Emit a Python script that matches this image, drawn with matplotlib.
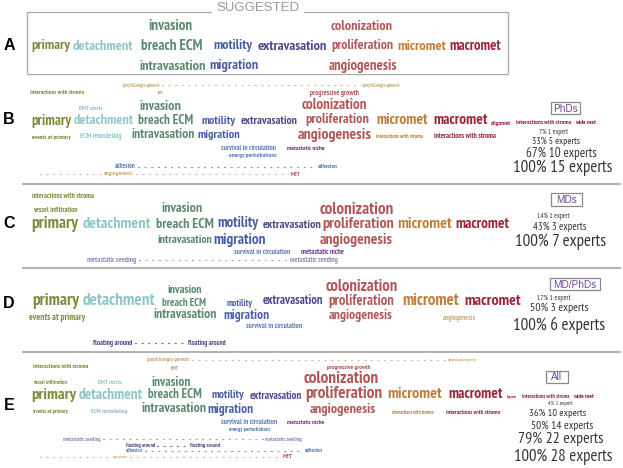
import matplotlib
matplotlib.use("Agg")
import matplotlib.pyplot as plt
from matplotlib.patches import Rectangle

W, H = 623, 468
FONT = ['PT Sans Narrow', 'Archivo Narrow', 'DejaVu Sans']
LABEL_FONT = ['Liberation Sans', 'DejaVu Sans']

# ---------------- colours per stage ----------------
COL = {
    'olive': '#7d8c3c', 'teal': '#8fc6c8', 'green': '#5c8a70', 'blue': '#4b5fa6',
    'lblue': '#5a7fb8', 'purple': '#4d4890', 'purple2': '#6b3a8c', 'lav': '#9488c0',
    'navy': '#4a4a88', 'red': '#b35858', 'orange': '#c27e3c', 'dred': '#99283a',
    'tan': '#c9ab78', 'pink': '#c4508a', 'emt': '#a8a070', 'stat': '#333333',
}

# ---------------- data: words (text) and stage colour keys ----------------
words_A = ["primary", "detachment", "breach ECM", "invasion", "intravasation", "motility",
           "migration", "extravasation", "colonization", "proliferation", "angiogenesis",
           "micromet", "macromet", "lymph&angio-genesis", "lymph&angio-genesis"]
stages_A = ['olive', 'teal', 'green', 'green', 'green', 'blue', 'blue', 'purple', 'red', 'red',
            'red', 'orange', 'dred', 'tan', 'tan']

words_B = ["interactions with stroma", "EMT", "EMT starts", "invasion", "primary", "detachment",
           "breach ECM", "motility", "extravasation", "events at primary", "ECM remodeling",
           "intravasation", "migration", "survival in circulation", "energy perturbations",
           "metastatic niche", "adhesion", "adhesion", "angiogenesis", "MET",
           "progressive growth", "colonization", "proliferation", "angiogenesis", "micromet",
           "macromet", "oligomet", "interactions with stroma", "wide met",
           "interactions with stroma", "interactions with stroma"]
stages_B = ['olive', 'emt', 'teal', 'green', 'olive', 'teal', 'green', 'blue', 'purple', 'olive',
            'teal', 'green', 'blue', 'lblue', 'lblue', 'purple2', 'lblue', 'lblue', 'tan', 'pink',
            'red', 'red', 'red', 'red', 'orange', 'dred', 'dred', 'dred', 'dred', 'orange', 'dred']

words_C = ["interactions with stroma", "vessel infiltration", "invasion", "primary", "detachment",
           "breach ECM", "motility", "extravasation", "intravasation", "migration",
           "survival in circulation", "metastatic niche", "metastatic seeding",
           "metastatic seeding", "colonization", "proliferation", "angiogenesis", "micromet",
           "macromet"]
stages_C = ['olive', 'olive', 'green', 'olive', 'teal', 'green', 'blue', 'purple', 'green', 'blue',
            'lblue', 'purple2', 'lav', 'lav', 'red', 'red', 'red', 'orange', 'dred']

words_D = ["invasion", "primary", "detachment", "breach ECM", "motility", "extravasation",
           "events at primary", "intravasation", "migration", "survival in circulation",
           "floating around", "floating around", "colonization", "proliferation",
           "angiogenesis", "micromet", "macromet", "angiogenesis"]
stages_D = ['green', 'olive', 'teal', 'green', 'blue', 'purple', 'olive', 'green', 'blue', 'lblue',
            'navy', 'navy', 'red', 'red', 'red', 'orange', 'dred', 'tan']

words_E = ["lymph&angio-genesis", "lymph&angio-genesis", "EMT", "interactions with stroma",
           "vessel infiltration", "EMT starts", "invasion", "progressive growth", "colonization",
           "primary", "detachment", "breach ECM", "motility", "extravasation", "proliferation",
           "micromet", "macromet", "oligomet", "interactions with stroma", "wide met",
           "events at primary", "ECM remodeling", "intravasation", "migration", "angiogenesis",
           "interactions with stroma", "interactions with stroma", "survival in circulation",
           "metastatic niche", "energy perturbations", "metastatic seeding", "metastatic seeding",
           "floating around", "floating around", "adhesion", "adhesion", "angiogenesis", "MET"]
stages_E = ['tan', 'tan', 'emt', 'olive', 'olive', 'teal', 'green', 'red', 'red', 'olive', 'teal',
            'green', 'blue', 'purple', 'red', 'orange', 'dred', 'dred', 'dred', 'dred', 'olive',
            'teal', 'green', 'blue', 'red', 'orange', 'dred', 'lblue', 'purple2', 'lblue', 'lav',
            'lav', 'navy', 'navy', 'lblue', 'lblue', 'tan', 'pink']

groups = ["PhDs", "MDs", "MD/PhDs", "All"]
pct_B = ["7%", "33%", "67%", "100%"]
n_B = ["1 expert", "5 experts", "10 experts", "15 experts"]
pct_C = ["14%", "43%", "100%"]
n_C = ["1 expert", "3 experts", "7 experts"]
pct_D = ["17%", "50%", "100%"]
n_D = ["1 expert", "3 experts", "6 experts"]
pct_E = ["4%", "36%", "50%", "79%", "100%"]
n_E = ["1 expert", "10 experts", "14 experts", "22 experts", "28 experts"]

# ---------------- layout (pixel boxes: left, right, centre-y) ----------------
lay_A = [(31, 70, 46), (73, 134, 46), (141, 203, 46), (148, 192, 26), (139, 206, 66),
         (213, 252, 46), (209, 258, 66), (258, 328, 46), (331, 393, 26), (331, 393, 46),
         (329, 398, 66), (397, 446, 46), (449, 501, 46), (123, 160, 85), (363, 400, 85)]
dots_A = [(162, 361, 85, 'tan')]

lay_B = [(30, 84, 93), (158, 164, 93), (79, 103, 108), (140, 182, 106), (31, 71, 121),
         (74, 134, 121), (138, 193, 121), (202, 236, 121), (241, 298, 121), (32, 71, 137),
         (80, 122, 137), (132, 195, 135), (198, 241, 135), (221, 276, 148), (229, 277, 156),
         (287, 325, 148), (115, 136, 167), (318, 338, 167), (104, 134, 174), (291, 301, 174),
         (310, 360, 93), (302, 368, 105), (305, 369, 120), (298, 373, 135), (376, 428, 120),
         (433, 488, 120), (491, 511, 123), (516, 571, 123), (575, 596, 123), (376, 423, 137),
         (434, 497, 137)]
dots_B = [(138, 316, 167, 'lblue'), (40, 102, 174, 'tan'), (136, 289, 174, 'tan')]
box_B = (551, 580, 102, 114)
stat_B = [(539, 568, 132), (532, 580, 141), (526, 597, 153), (513, 613, 168)]

lay_C = [(32, 95, 196), (33, 78, 211), (162, 203, 209), (31, 78, 224), (83, 152, 224),
         (156, 214, 224), (217, 258, 223), (263, 322, 225), (158, 213, 240), (213, 266, 240),
         (234, 290, 252), (301, 344, 252), (87, 137, 260), (290, 339, 260), (320, 395, 210),
         (322, 394, 224), (320, 393, 240), (397, 452, 224), (455, 509, 224)]
dots_C = [(139, 288, 260, 'lav')]
box_C = (551, 582, 193, 206)
stat_C = [(537, 570, 216), (533, 586, 227), (515, 606, 242)]

lay_D = [(167, 202, 290), (32, 79, 301), (83, 156, 301), (162, 206, 303), (227, 253, 303),
         (263, 324, 301), (29, 85, 317), (153, 216, 315), (223, 269, 315), (246, 302, 327),
         (93, 133, 343), (188, 227, 343), (326, 399, 287), (328, 394, 301), (329, 393, 316),
         (402, 459, 301), (464, 521, 301), (443, 477, 318)]
dots_D = [(135, 186, 343, 'navy')]
box_D = (550, 600, 278, 290)
stat_D = [(537, 571, 298), (530, 589, 308), (513, 606, 325)]

lay_E = [(147, 190, 360), (448, 477, 360), (171, 179, 368), (33, 88, 367), (33, 67, 383),
         (98, 122, 383), (152, 191, 382), (327, 371, 367), (304, 380, 379), (31, 76, 395),
         (79, 143, 395), (148, 202, 395), (211, 244, 395), (250, 302, 396), (305, 383, 394),
         (387, 442, 394), (448, 503, 394), (507, 517, 397), (522, 570, 397), (573, 594, 397),
         (33, 68, 412), (91, 128, 412), (142, 207, 409), (207, 253, 409), (310, 377, 409),
         (392, 433, 412), (446, 500, 412), (221, 277, 422), (287, 324, 422), (229, 270, 430),
         (63, 101, 439), (265, 302, 439), (126, 155, 446), (190, 220, 446), (126, 143, 451),
         (305, 323, 451), (113, 128, 457), (283, 293, 457)]
dots_E = [(192, 446, 360, 'tan'), (103, 263, 439, 'lav'), (157, 188, 446, 'navy'),
          (145, 303, 451, 'lblue'), (40, 111, 457, 'tan'), (130, 281, 457, 'tan')]
box_E = (546, 568, 371, 383)
stat_E = [(548, 573, 403), (529, 586, 413), (531, 594, 426), (518, 604, 439), (514, 613, 457)]

# ---------------- drawing ----------------
fig = plt.figure(figsize=(W / 100, H / 100), dpi=100)
ax = fig.add_axes([0, 0, 1, 1])
ax.set_xlim(0, W)
ax.set_ylim(H, 0)
ax.axis('off')
fig.canvas.draw()
R = fig.canvas.get_renderer()


def put(txt, x0, x1, y, color, weight='bold', family=FONT):
    t = ax.text(x0, y, txt, ha='left', va='center', fontsize=10, color=color,
                fontweight=weight, family=family)
    w = t.get_window_extent(renderer=R).width
    t.set_fontsize(10 * (x1 - x0) / max(w, 1e-6))
    return t


def dots(x0, x1, y, c):
    ax.plot([x0, x1], [y, y], color=COL[c], lw=0.9, ls=(0, (0.8, 4.5)),
            solid_capstyle='round', dash_capstyle='round', alpha=0.8)


def panel(words, stages, lay, dts):
    for w, s, (x0, x1, y) in zip(words, stages, lay):
        put(w, x0, x1, y, COL[s])
    for x0, x1, y, c in dts:
        dots(x0, x1, y, c)


def stats(pcts, ns, lay, box, name):
    for p, n, (x0, x1, y) in zip(pcts, ns, lay):
        put(f"{p} {n}", x0, x1, y, COL['stat'], weight='normal')
    x0, x1, y0, y1 = box
    ax.add_patch(Rectangle((x0, y0), x1 - x0, y1 - y0, fill=False, ec='#8a8a8a', lw=0.9))
    ax.text((x0 + x1) / 2, (y0 + y1) / 2 + 0.5, name, ha='center', va='center',
            fontsize=7.2, color='#6a4a9a', family=LABEL_FONT)


# panel A box and title
ax.add_patch(Rectangle((27, 12), 481, 62, fill=False, ec='#aaaaaa', lw=0.9))
ax.text(258, 8, "SUGGESTED", ha='center', va='center', fontsize=9.5, color='#999999',
        family=LABEL_FONT, bbox=dict(boxstyle='square,pad=0.3', fc='white', ec='none'))

panel(words_A, stages_A, lay_A, dots_A)
panel(words_B, stages_B, lay_B, dots_B)
panel(words_C, stages_C, lay_C, dots_C)
panel(words_D, stages_D, lay_D, dots_D)
panel(words_E, stages_E, lay_E, dots_E)

stats(pct_B, n_B, stat_B, box_B, groups[0])
stats(pct_C, n_C, stat_C, box_C, groups[1])
stats(pct_D, n_D, stat_D, box_D, groups[2])
stats(pct_E, n_E, stat_E, box_E, groups[3])

# separators
for ys in (184, 268, 352):
    ax.plot([22, 621], [ys, ys], color='#b0b0b0', lw=1.4, solid_capstyle='butt')

# panel labels
for lab, y in zip("ABCDE", (45, 120, 223, 303, 405)):
    ax.text(9, y, lab, ha='center', va='center', fontsize=11.5, fontweight='bold',
            color='black', family=LABEL_FONT)

fig.savefig("out.png", dpi=100)
